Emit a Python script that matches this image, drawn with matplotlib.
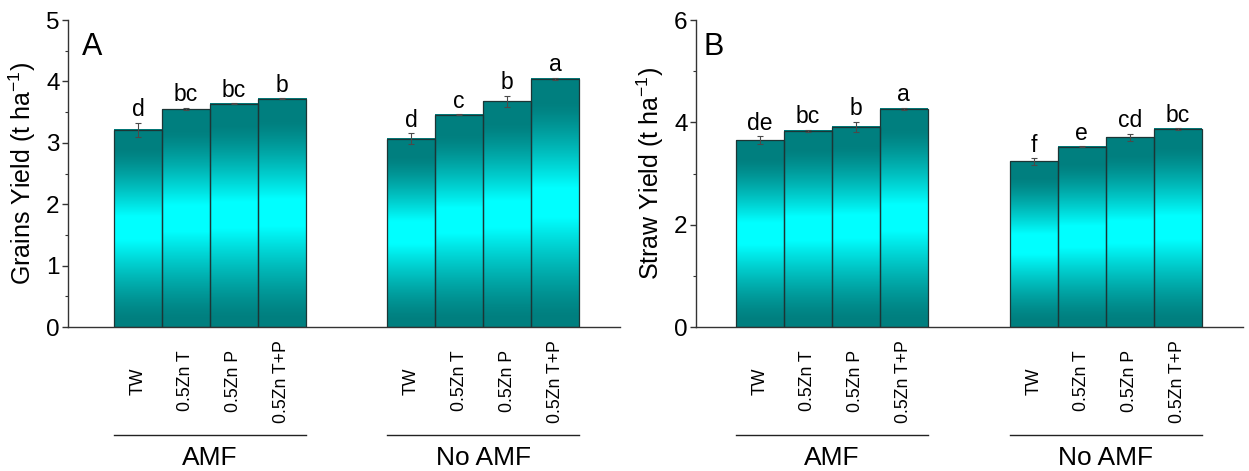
import numpy as np
import matplotlib
matplotlib.use('Agg')
import matplotlib.pyplot as plt
import matplotlib.transforms as mtransforms
from matplotlib.ticker import MultipleLocator

plt.rcParams['font.family'] = ['Liberation Sans', 'DejaVu Sans']
plt.rcParams['mathtext.fontset'] = 'custom'
plt.rcParams['mathtext.rm'] = 'Liberation Sans'
plt.rcParams['mathtext.it'] = 'Liberation Sans:italic'
plt.rcParams['mathtext.bf'] = 'Liberation Sans:bold'

# ---------------- data ----------------
treatments = ['TW', '0.5Zn T', '0.5Zn P', '0.5Zn T+P']
groups = ['AMF', 'No AMF']

grain_amf = [3.21, 3.55, 3.64, 3.72]
grain_amf_err = [0.12, 0.02, 0.01, 0.01]
grain_noamf = [3.07, 3.46, 3.68, 4.04]
grain_noamf_err = [0.09, 0.01, 0.09, 0.02]
grain_letters_amf = ['d', 'bc', 'bc', 'b']
grain_letters_noamf = ['d', 'c', 'b', 'a']

straw_amf = [3.65, 3.84, 3.91, 4.27]
straw_amf_err = [0.08, 0.02, 0.10, 0.02]
straw_noamf = [3.24, 3.52, 3.71, 3.87]
straw_noamf_err = [0.065, 0.01, 0.07, 0.01]
straw_letters_amf = ['de', 'bc', 'b', 'a']
straw_letters_noamf = ['f', 'e', 'cd', 'bc']

# ---------------- gradient fill (dark teal -> cyan -> dark teal) ----------------
t = np.linspace(1, 0, 400)              # fraction of bar height, top row first
rise = np.clip((t - 0.04) / (0.44 - 0.04), 0, 1)
fall = np.clip((0.90 - t) / (0.90 - 0.56), 0, 1)
f = np.minimum(rise, fall) ** 1.3
dark = np.array([0.0, 0.50, 0.50])
bright = np.array([0.0, 1.0, 1.0])
grad = (dark[None, :] + (bright - dark)[None, :] * f[:, None]).reshape(-1, 1, 3)

axis_color = '#333333'

fig = plt.figure(figsize=(12.49, 4.71), dpi=100)
axA = fig.add_axes([0.0544, 0.3057, 0.4420, 0.6518])
axB = fig.add_axes([0.5572, 0.3057, 0.4380, 0.6518])


def panel(ax, vals_list, errs_list, letters_list, ylabel, ymax, major, minor,
          tag, xlim, gap, tagx):
    all_x = []
    all_labels = []
    trans = mtransforms.blended_transform_factory(ax.transData, ax.transAxes)
    for gi, (vals, errs, lets) in enumerate(zip(vals_list, errs_list, letters_list)):
        x = np.arange(len(vals)) + gi * gap
        bars = ax.bar(x, vals, width=1.0, facecolor='none',
                      edgecolor='#1c3535', linewidth=0.9, zorder=3)
        for b in bars:
            ax.imshow(grad, aspect='auto', interpolation='bilinear',
                      extent=[b.get_x(), b.get_x() + b.get_width(), 0, b.get_height()],
                      zorder=2)
        ax.errorbar(x, vals, yerr=errs, fmt='none', ecolor='#4a4a4a',
                    elinewidth=0.8, capsize=2.5, capthick=0.8, zorder=4)
        for xi, v, e, l in zip(x, vals, errs, lets):
            ax.annotate(l, (xi, v + e), xytext=(0, 4.6), textcoords='offset points',
                        ha='center', va='baseline', fontsize=16.5, zorder=5)
        ax.plot([x[0] - 0.5, x[-1] + 0.5], [-0.352, -0.352], transform=trans,
                clip_on=False, color='#222222', lw=1.0)
        ax.text(np.mean(x), -0.428, groups[gi], transform=trans, ha='center',
                va='center', fontsize=19)
        all_x.extend(x)
        all_labels.extend(treatments)

    ax.set_xlim(*xlim)
    ax.set_ylim(0, ymax)
    ax.set_xticks(all_x)
    ax.set_xticklabels(all_labels, rotation=90, fontsize=12.8, va='center', ha='center')
    ax.tick_params(axis='x', length=0, pad=39)
    ax.yaxis.set_major_locator(MultipleLocator(major))
    ax.yaxis.set_minor_locator(MultipleLocator(minor))
    ax.tick_params(axis='y', which='major', direction='out', length=4, width=1,
                   labelsize=17.5, pad=2, color=axis_color)
    ax.tick_params(axis='y', which='minor', direction='out', length=2, width=0.8,
                   color=axis_color)
    for s in ['top', 'right']:
        ax.spines[s].set_visible(False)
    for s in ['left', 'bottom']:
        ax.spines[s].set_color(axis_color)
        ax.spines[s].set_linewidth(1.0)
    ax.set_ylabel(ylabel, fontsize=18, labelpad=6)
    ax.text(tagx, 0.887, tag, transform=ax.transAxes, fontsize=22,
            ha='left', va='baseline')


panel(axA, [grain_amf, grain_noamf], [grain_amf_err, grain_noamf_err],
      [grain_letters_amf, grain_letters_noamf], 'Grains Yield (t ha$^{-1}$)',
      5, 1, 0.5, 'A', (-1.458, 10.04), 5.69, 0.026)
panel(axB, [straw_amf, straw_noamf], [straw_amf_err, straw_noamf_err],
      [straw_letters_amf, straw_letters_noamf], 'Straw Yield (t ha$^{-1}$)',
      6, 2, 1, 'B', (-1.33, 10.07), 5.71, 0.014)

fig.savefig('out.png', dpi=100)
